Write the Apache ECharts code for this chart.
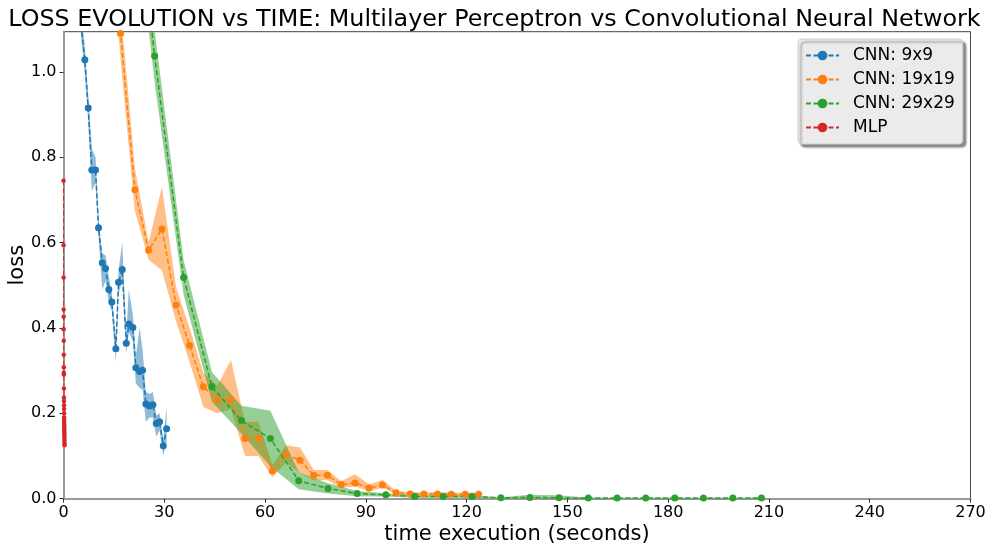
<!DOCTYPE html>
<html>
<head>
<meta charset="utf-8">
<script src="https://cdn.jsdelivr.net/npm/echarts@6/dist/echarts.min.js"></script>
<style>
html,body{margin:0;padding:0;background:#fff;}
#chart{width:989px;height:544px;}
</style>
</head>
<body>
<div id="chart"></div>
<script>
// ---- data ----
const seriesNames = ['CNN: 9x9', 'CNN: 19x19', 'CNN: 29x29', 'MLP'];
const xTicks = [0, 30, 60, 90, 120, 150, 180, 210, 240, 270];
const yTicks = [0.0, 0.2, 0.4, 0.6, 0.8, 1.0];

const blueX = [4.4, 5.45, 6.35, 7.36, 8.43, 9.54, 10.43, 11.53, 12.51, 13.5, 14.39, 15.58, 16.39, 17.49, 18.68, 19.46, 20.65, 21.54, 22.65, 23.54, 24.52, 25.63, 26.61, 27.62, 28.6, 29.71, 30.69];
const blueY = [1.18, 1.095, 1.028, 0.915, 0.770, 0.770, 0.635, 0.553, 0.539, 0.490, 0.461, 0.351, 0.507, 0.537, 0.364, 0.409, 0.401, 0.307, 0.298, 0.301, 0.222, 0.217, 0.220, 0.176, 0.180, 0.124, 0.164];
const blueLow = [1.15, 1.065, 0.998, 0.885, 0.72, 0.74, 0.615, 0.49, 0.51, 0.46, 0.44, 0.32, 0.48, 0.51, 0.34, 0.39, 0.37, 0.27, 0.26, 0.255, 0.18, 0.19, 0.19, 0.145, 0.16, 0.10, 0.135];
const blueHigh = [1.21, 1.125, 1.058, 0.945, 0.82, 0.80, 0.655, 0.575, 0.57, 0.52, 0.48, 0.37, 0.535, 0.60, 0.385, 0.49, 0.43, 0.335, 0.40, 0.35, 0.25, 0.245, 0.25, 0.195, 0.20, 0.14, 0.215];

const orangeX = [12.9, 16.98, 21.25, 25.33, 29.29, 33.52, 37.54, 41.63, 45.8, 49.85, 54.02, 58.02, 62.19, 66.24, 70.41, 74.49, 78.58, 82.69, 86.8, 90.97, 94.96, 99.02, 103.19, 107.27, 111.35, 115.41, 119.58, 123.57];
const orangeY = [1.50, 1.09, 0.724, 0.582, 0.632, 0.454, 0.359, 0.262, 0.232, 0.232, 0.141, 0.141, 0.065, 0.104, 0.090, 0.055, 0.055, 0.033, 0.037, 0.025, 0.032, 0.014, 0.011, 0.011, 0.011, 0.0105, 0.0105, 0.0105];
const orangeLow = [1.42, 1.03, 0.674, 0.56, 0.535, 0.415, 0.32, 0.215, 0.20, 0.21, 0.10, 0.10, 0.05, 0.085, 0.06, 0.043, 0.043, 0.025, 0.029, 0.017, 0.026, 0.010, 0.007, 0.007, 0.007, 0.0065, 0.0065, 0.0065];
const orangeHigh = [1.58, 1.15, 0.774, 0.60, 0.73, 0.495, 0.40, 0.295, 0.265, 0.325, 0.18, 0.18, 0.08, 0.125, 0.12, 0.067, 0.067, 0.041, 0.057, 0.033, 0.044, 0.018, 0.015, 0.015, 0.015, 0.0145, 0.0145, 0.0145];

const greenX = [18.5, 27.12, 35.76, 44.19, 52.95, 61.59, 70.02, 78.75, 87.4, 95.95, 104.5, 113.02, 121.66, 130.21, 138.86, 147.5, 156.23, 164.78, 173.33, 181.97, 190.49, 199.25, 207.78];
const greenY = [1.65, 1.037, 0.518, 0.262, 0.183, 0.141, 0.042, 0.024, 0.012, 0.009, 0.005, 0.005, 0.005, 0.002, 0.003, 0.002, 0.0015, 0.0015, 0.0015, 0.0015, 0.0015, 0.0015, 0.0015];
const greenLow = [1.57, 0.977, 0.478, 0.227, 0.153, 0.076, 0.022, 0.012, 0.006, 0.005, 0.002, 0.002, 0.002, 0.0005, 0.0005, 0.0005, 0.0005, 0.0005, 0.0005, 0.0005, 0.0005, 0.0005, 0.0005];
const greenHigh = [1.73, 1.097, 0.558, 0.297, 0.218, 0.206, 0.062, 0.036, 0.018, 0.013, 0.008, 0.008, 0.008, 0.0035, 0.009, 0.008, 0.0025, 0.0025, 0.0025, 0.0025, 0.0025, 0.0025, 0.0025];

const mlpX = [0.01, 0.02, 0.03, 0.04, 0.05, 0.06, 0.07, 0.08, 0.09, 0.10, 0.11, 0.12, 0.13, 0.14, 0.15, 0.16, 0.17, 0.18, 0.19, 0.20, 0.21, 0.22, 0.23, 0.24, 0.25, 0.26, 0.27, 0.28, 0.29, 0.30, 0.31];
const mlpY = [0.745, 0.594, 0.518, 0.443, 0.426, 0.397, 0.370, 0.337, 0.308, 0.295, 0.291, 0.258, 0.237, 0.229, 0.219, 0.210, 0.200, 0.190, 0.185, 0.180, 0.175, 0.170, 0.165, 0.160, 0.155, 0.150, 0.145, 0.140, 0.135, 0.130, 0.125];

const colors = ['#1f77b4', '#ff7f0e', '#2ca02c', '#d62728'];
const bandColors = ['rgba(31,119,180,0.5)', 'rgba(255,127,14,0.5)', 'rgba(44,160,44,0.5)'];

// ---- build ----
function pairs(xs, ys) { return xs.map((x, i) => [x, ys[i]]); }

// clip a polygon against an axis-aligned rectangle (Sutherland-Hodgman)
function clipPoly(pts, r) {
  const edges = [
    [p => p[0] >= r.x, (a, b) => { const t = (r.x - a[0]) / (b[0] - a[0]); return [r.x, a[1] + t * (b[1] - a[1])]; }],
    [p => p[0] <= r.x + r.width, (a, b) => { const X = r.x + r.width; const t = (X - a[0]) / (b[0] - a[0]); return [X, a[1] + t * (b[1] - a[1])]; }],
    [p => p[1] >= r.y, (a, b) => { const t = (r.y - a[1]) / (b[1] - a[1]); return [a[0] + t * (b[0] - a[0]), r.y]; }],
    [p => p[1] <= r.y + r.height, (a, b) => { const Y = r.y + r.height; const t = (Y - a[1]) / (b[1] - a[1]); return [a[0] + t * (b[0] - a[0]), Y]; }]
  ];
  let out = pts;
  edges.forEach(([inside, inter]) => {
    const inp = out; out = [];
    for (let i = 0; i < inp.length; i++) {
      const cur = inp[i], prev = inp[(i + inp.length - 1) % inp.length];
      const ci = inside(cur), pi = inside(prev);
      if (ci) { if (!pi) out.push(inter(prev, cur)); out.push(cur); }
      else if (pi) out.push(inter(prev, cur));
    }
  });
  return out;
}

const cnn = [
  {x: blueX, y: blueY, lo: blueLow, hi: blueHigh},
  {x: orangeX, y: orangeY, lo: orangeLow, hi: orangeHigh},
  {x: greenX, y: greenY, lo: greenLow, hi: greenHigh}
];

const FONT = 'DejaVu Sans';
const series = [];
cnn.forEach((s, k) => {
  series.push({
    type: 'custom', silent: true, z: 1,
    data: s.x.map((x, i) => [x, s.lo[i], s.hi[i]]),
    encode: {x: 0, y: [1, 2]},
    renderItem: function (params, api) {
      if (params.dataIndex !== 0) return null;
      const upper = s.x.map((x, i) => api.coord([x, s.hi[i]]));
      const lower = s.x.map((x, i) => api.coord([x, s.lo[i]])).reverse();
      const cs = params.coordSys;
      const poly = clipPoly(upper.concat(lower), {x: cs.x, y: cs.y, width: cs.width, height: cs.height});
      return {type: 'polygon', shape: {points: poly}, style: {fill: bandColors[k], stroke: null}};
    }
  });
});
cnn.forEach((s, k) => {
  series.push({
    name: seriesNames[k], type: 'line', data: pairs(s.x, s.y),
    symbol: 'circle', symbolSize: 7, clip: true,
    lineStyle: {color: colors[k], width: 1.5, type: [5, 2.5]},
    itemStyle: {color: colors[k]}, z: 3
  });
});
series.push({
  name: seriesNames[3], type: 'line', data: pairs(mlpX, mlpY),
  symbol: 'circle', symbolSize: 4.5, clip: false,
  lineStyle: {color: colors[3], width: 1, type: [5, 2.5]},
  itemStyle: {color: colors[3]}, z: 4
});

const chart = echarts.init(document.getElementById('chart'), null, {renderer: 'canvas'});
chart.setOption({
  animation: false,
  backgroundColor: '#ffffff',
  textStyle: {fontFamily: FONT},
  title: {
    text: 'LOSS EVOLUTION vs TIME: Multilayer Perceptron vs Convolutional Neural Network',
    left: 'center', top: 3,
    textStyle: {fontFamily: FONT, fontSize: 23.8, fontWeight: 'normal', color: '#000'}
  },
  legend: {
    data: seriesNames.map(n => ({name: n})),
    orient: 'vertical', left: 798, top: 39,
    itemWidth: 33, itemHeight: 12, itemGap: 7,
    padding: [8, 8, 8, 7],
    backgroundColor: '#ebebeb', borderColor: '#cccccc', borderWidth: 1, borderRadius: 4,
    shadowColor: 'rgba(0,0,0,0.45)', shadowBlur: 2, shadowOffsetX: 3, shadowOffsetY: 3,
    textStyle: {fontFamily: FONT, fontSize: 17, color: '#000', padding: [0, 0, 0, 9]}
  },
  grid: {left: 63.5, right: 18.5, top: 31.7, bottom: 45.3, containLabel: false, outerBoundsMode: 'none',
    show: true, borderColor: '#444', borderWidth: 1, backgroundColor: 'transparent'},
  xAxis: {
    type: 'value', min: 0, max: 270, interval: 30,
    name: 'time execution (seconds)', nameLocation: 'middle', nameGap: 25, nameMoveOverlap: false,
    nameTextStyle: {fontFamily: FONT, fontSize: 21, color: '#000'},
    axisLine: {show: true, lineStyle: {color: '#999', width: 2}},
    axisTick: {show: true, length: 4, lineStyle: {color: '#333'}},
    axisLabel: {fontFamily: FONT, fontSize: 16, color: '#000', margin: 6,
      formatter: v => xTicks.indexOf(v) >= 0 ? String(v) : ''},
    splitLine: {show: false}
  },
  yAxis: {
    type: 'value', min: 0, max: 1.094, interval: 0.2,
    name: 'loss', nameLocation: 'middle', nameGap: 35, nameMoveOverlap: false,
    nameTextStyle: {fontFamily: FONT, fontSize: 21, color: '#000'},
    axisLine: {show: true, lineStyle: {color: '#999', width: 2}},
    axisTick: {show: true, length: 4, lineStyle: {color: '#333'}},
    axisLabel: {fontFamily: FONT, fontSize: 16, color: '#000', margin: 7, showMaxLabel: false,
      formatter: v => {
        const m = yTicks.find(t => Math.abs(t - v) < 1e-6);
        return m === undefined ? '' : m.toFixed(1);
      }},
    splitLine: {show: false}
  },
  series: series
});
</script>
</body>
</html>
